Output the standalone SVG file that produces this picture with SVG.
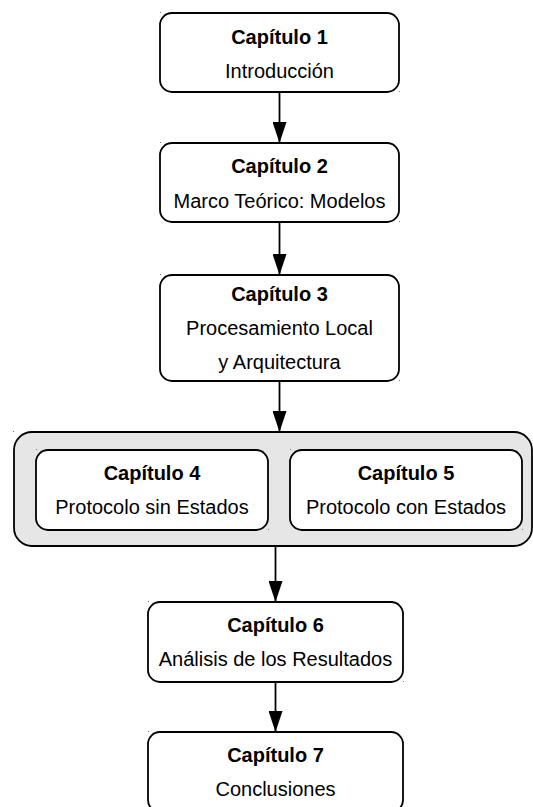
<svg xmlns="http://www.w3.org/2000/svg" width="533" height="807" viewBox="0 0 533 807">
  <style>
    .box { fill: #ffffff; stroke: #000000; stroke-width: 1.8; }
    .grp { fill: #e6e6e6; stroke: #000000; stroke-width: 1.8; }
    .title { font-family: "Liberation Sans", Arial, sans-serif; font-size: 20px; font-weight: bold; fill: #000; text-anchor: middle; }
    .sub { font-family: "Liberation Sans", Arial, sans-serif; font-size: 20px; fill: #000; text-anchor: middle; }
    .edge { stroke: #000000; stroke-width: 1.8; fill: none; }
    .tick { fill: #777777; }
  </style>
  <defs>
    <marker id="arrow" markerWidth="21" markerHeight="14" refX="21" refY="7" orient="auto" markerUnits="userSpaceOnUse" viewBox="0 0 21 14">
      <path d="M0,0 L21,7 L0,14 Z" fill="#000000"/>
    </marker>
  </defs>

  <!-- container for chapters 4 and 5 -->
  <g id="group-4-5">
    <rect class="grp" x="14" y="432" width="518" height="114" rx="18" ry="18"/>
  </g>

  <g id="cap1">
    <rect class="box" x="160" y="13" width="239" height="79" rx="12" ry="12"/>
    <text class="title" x="279.5" y="43.5">Capítulo 1</text>
    <text class="sub" x="279.5" y="77.5">Introducción</text>
  </g>

  <g id="cap2">
    <rect class="box" x="160" y="143" width="239" height="79" rx="12" ry="12"/>
    <text class="title" x="279.5" y="172.5">Capítulo 2</text>
    <text class="sub" x="279.5" y="207.5">Marco Teórico: Modelos</text>
  </g>

  <g id="cap3">
    <rect class="box" x="160" y="275" width="239" height="106" rx="12" ry="12"/>
    <text class="title" x="279.5" y="301">Capítulo 3</text>
    <text class="sub" x="279.5" y="335">Procesamiento Local</text>
    <text class="sub" x="279.5" y="368.5">y Arquitectura</text>
  </g>

  <g id="cap4">
    <rect class="box" x="36" y="450" width="232" height="80" rx="12" ry="12"/>
    <text class="title" x="152" y="480">Capítulo 4</text>
    <text class="sub" x="152" y="513.5">Protocolo sin Estados</text>
  </g>

  <g id="cap5">
    <rect class="box" x="290" y="450" width="232" height="80" rx="12" ry="12"/>
    <text class="title" x="406" y="480">Capítulo 5</text>
    <text class="sub" x="406" y="513.5">Protocolo con Estados</text>
  </g>

  <g id="cap6">
    <rect class="box" x="148" y="602" width="255" height="80" rx="12" ry="12"/>
    <text class="title" x="275.5" y="632">Capítulo 6</text>
    <text class="sub" x="275.5" y="666">Análisis de los Resultados</text>
  </g>

  <g id="cap7">
    <rect class="box" x="148" y="732" width="255" height="80" rx="12" ry="12"/>
    <text class="title" x="275.5" y="762">Capítulo 7</text>
    <text class="sub" x="275.5" y="795.5">Conclusiones</text>
  </g>

  <!-- connectors -->
  <g id="connectors">
    <line class="edge" x1="279.5" y1="92" x2="279.5" y2="143" marker-end="url(#arrow)"/>
    <line class="edge" x1="279.5" y1="222" x2="279.5" y2="275" marker-end="url(#arrow)"/>
    <line class="edge" x1="279.5" y1="381" x2="279.5" y2="432" marker-end="url(#arrow)"/>
    <line class="edge" x1="275.5" y1="546" x2="275.5" y2="602" marker-end="url(#arrow)"/>
    <line class="edge" x1="275.5" y1="682" x2="275.5" y2="732" marker-end="url(#arrow)"/>
  </g>

  <!-- small bounding-corner ticks -->
  <g id="ticks">
    <rect class="tick" x="160" y="12" width="1" height="1"/>
    <rect class="tick" x="399" y="91" width="1" height="1"/>
    <rect class="tick" x="160" y="142" width="1" height="1"/>
    <rect class="tick" x="399" y="221" width="1" height="1"/>
    <rect class="tick" x="160" y="274" width="1" height="1"/>
    <rect class="tick" x="399" y="380" width="1" height="1"/>
    <rect class="tick" x="13" y="431" width="1" height="1"/>
    <rect class="tick" x="36" y="449" width="1" height="1"/>
    <rect class="tick" x="268" y="529" width="1" height="1"/>
    <rect class="tick" x="290" y="449" width="1" height="1"/>
    <rect class="tick" x="522" y="529" width="1" height="1"/>
    <rect class="tick" x="148" y="601" width="1" height="1"/>
    <rect class="tick" x="403" y="681" width="1" height="1"/>
    <rect class="tick" x="148" y="731" width="1" height="1"/>
  </g>
</svg>
